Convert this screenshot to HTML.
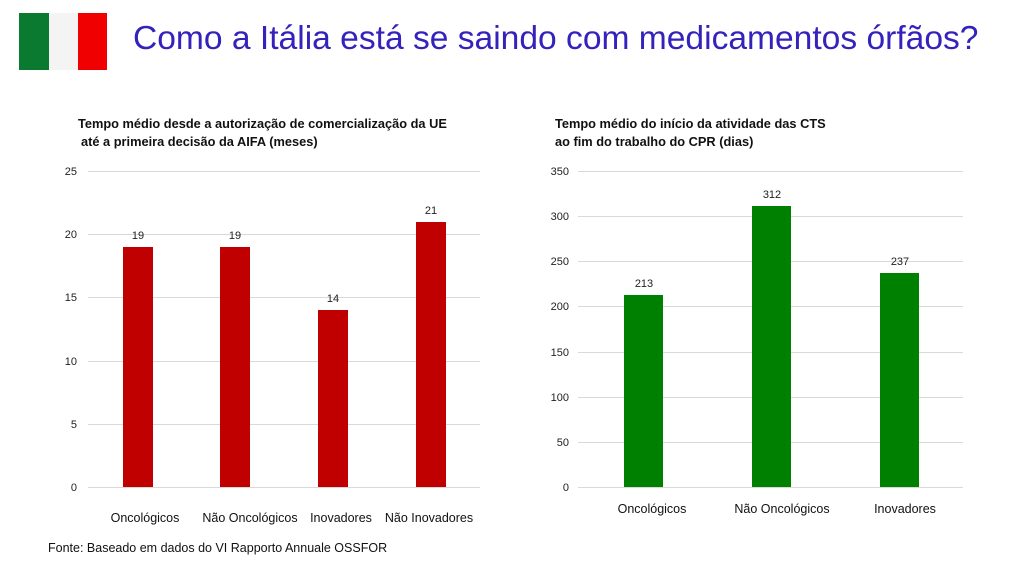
<!DOCTYPE html>
<html><head><meta charset="utf-8"><style>
body{margin:0;background:#fff;width:1024px;height:576px;overflow:hidden;font-family:"Liberation Sans",sans-serif}
</style></head><body>
<svg width="1024" height="576" xmlns="http://www.w3.org/2000/svg" font-family="Liberation Sans, sans-serif">
<rect x="19" y="13" width="30" height="57" fill="#0a7a30"/>
<rect x="49" y="13" width="29" height="57" fill="#f4f4f4"/>
<rect x="78" y="13" width="29" height="57" fill="#f00000"/>
<text x="133" y="49" font-size="33.6" fill="#3322bb">Como a Itália está se saindo com medicamentos órfãos?</text>

<text x="78" y="128" font-size="12.8" font-weight="bold" fill="#111">Tempo médio desde a autorização de comercialização da UE</text>
<text x="81" y="146" font-size="12.8" font-weight="bold" fill="#111">até a primeira decisão da AIFA (meses)</text>
<g stroke="#d9d9d9" stroke-width="1">
<line x1="88" x2="480" y1="171.5" y2="171.5"/><line x1="88" x2="480" y1="234.5" y2="234.5"/>
<line x1="88" x2="480" y1="297.5" y2="297.5"/><line x1="88" x2="480" y1="361.5" y2="361.5"/>
<line x1="88" x2="480" y1="424.5" y2="424.5"/><line x1="88" x2="480" y1="487.5" y2="487.5"/>
</g>
<g font-size="11" fill="#222" text-anchor="end">
<text x="77" y="175">25</text><text x="77" y="238">20</text><text x="77" y="301">15</text>
<text x="77" y="365">10</text><text x="77" y="428">5</text><text x="77" y="491">0</text>
</g>
<g fill="#c00000">
<rect x="123" y="247" width="30" height="240"/><rect x="220" y="247" width="30" height="240"/>
<rect x="318" y="310" width="30" height="177"/><rect x="416" y="222" width="30" height="265"/>
</g>
<g font-size="11" fill="#222" text-anchor="middle">
<text x="138" y="239">19</text><text x="235" y="239">19</text><text x="333" y="302">14</text><text x="431" y="214">21</text>
</g>
<g font-size="12.5" fill="#111" text-anchor="middle">
<text x="145" y="522">Oncológicos</text><text x="250" y="522">Não Oncológicos</text>
<text x="341" y="522">Inovadores</text><text x="429" y="522">Não Inovadores</text>
</g>

<text x="555" y="128" font-size="12.8" font-weight="bold" fill="#111">Tempo médio do início da atividade das CTS</text>
<text x="555" y="146" font-size="12.8" font-weight="bold" fill="#111">ao fim do trabalho do CPR (dias)</text>
<g stroke="#d9d9d9" stroke-width="1">
<line x1="578" x2="963" y1="171.5" y2="171.5"/><line x1="578" x2="963" y1="216.5" y2="216.5"/>
<line x1="578" x2="963" y1="261.5" y2="261.5"/><line x1="578" x2="963" y1="306.5" y2="306.5"/>
<line x1="578" x2="963" y1="352.5" y2="352.5"/><line x1="578" x2="963" y1="397.5" y2="397.5"/>
<line x1="578" x2="963" y1="442.5" y2="442.5"/><line x1="578" x2="963" y1="487.5" y2="487.5"/>
</g>
<g font-size="11" fill="#222" text-anchor="end">
<text x="569" y="175">350</text><text x="569" y="220">300</text><text x="569" y="265">250</text>
<text x="569" y="310">200</text><text x="569" y="356">150</text><text x="569" y="401">100</text>
<text x="569" y="446">50</text><text x="569" y="491">0</text>
</g>
<g fill="#008000">
<rect x="624" y="295" width="39" height="192"/><rect x="752" y="206" width="39" height="281"/>
<rect x="880" y="273" width="39" height="214"/>
</g>
<g font-size="11" fill="#222" text-anchor="middle">
<text x="644" y="287">213</text><text x="772" y="198">312</text><text x="900" y="265">237</text>
</g>
<g font-size="12.5" fill="#111" text-anchor="middle">
<text x="652" y="513">Oncológicos</text><text x="782" y="513">Não Oncológicos</text><text x="905" y="513">Inovadores</text>
</g>

<text x="48" y="552" font-size="12.5" fill="#111">Fonte: Baseado em dados do  VI Rapporto Annuale OSSFOR</text>
</svg>
</body></html>
